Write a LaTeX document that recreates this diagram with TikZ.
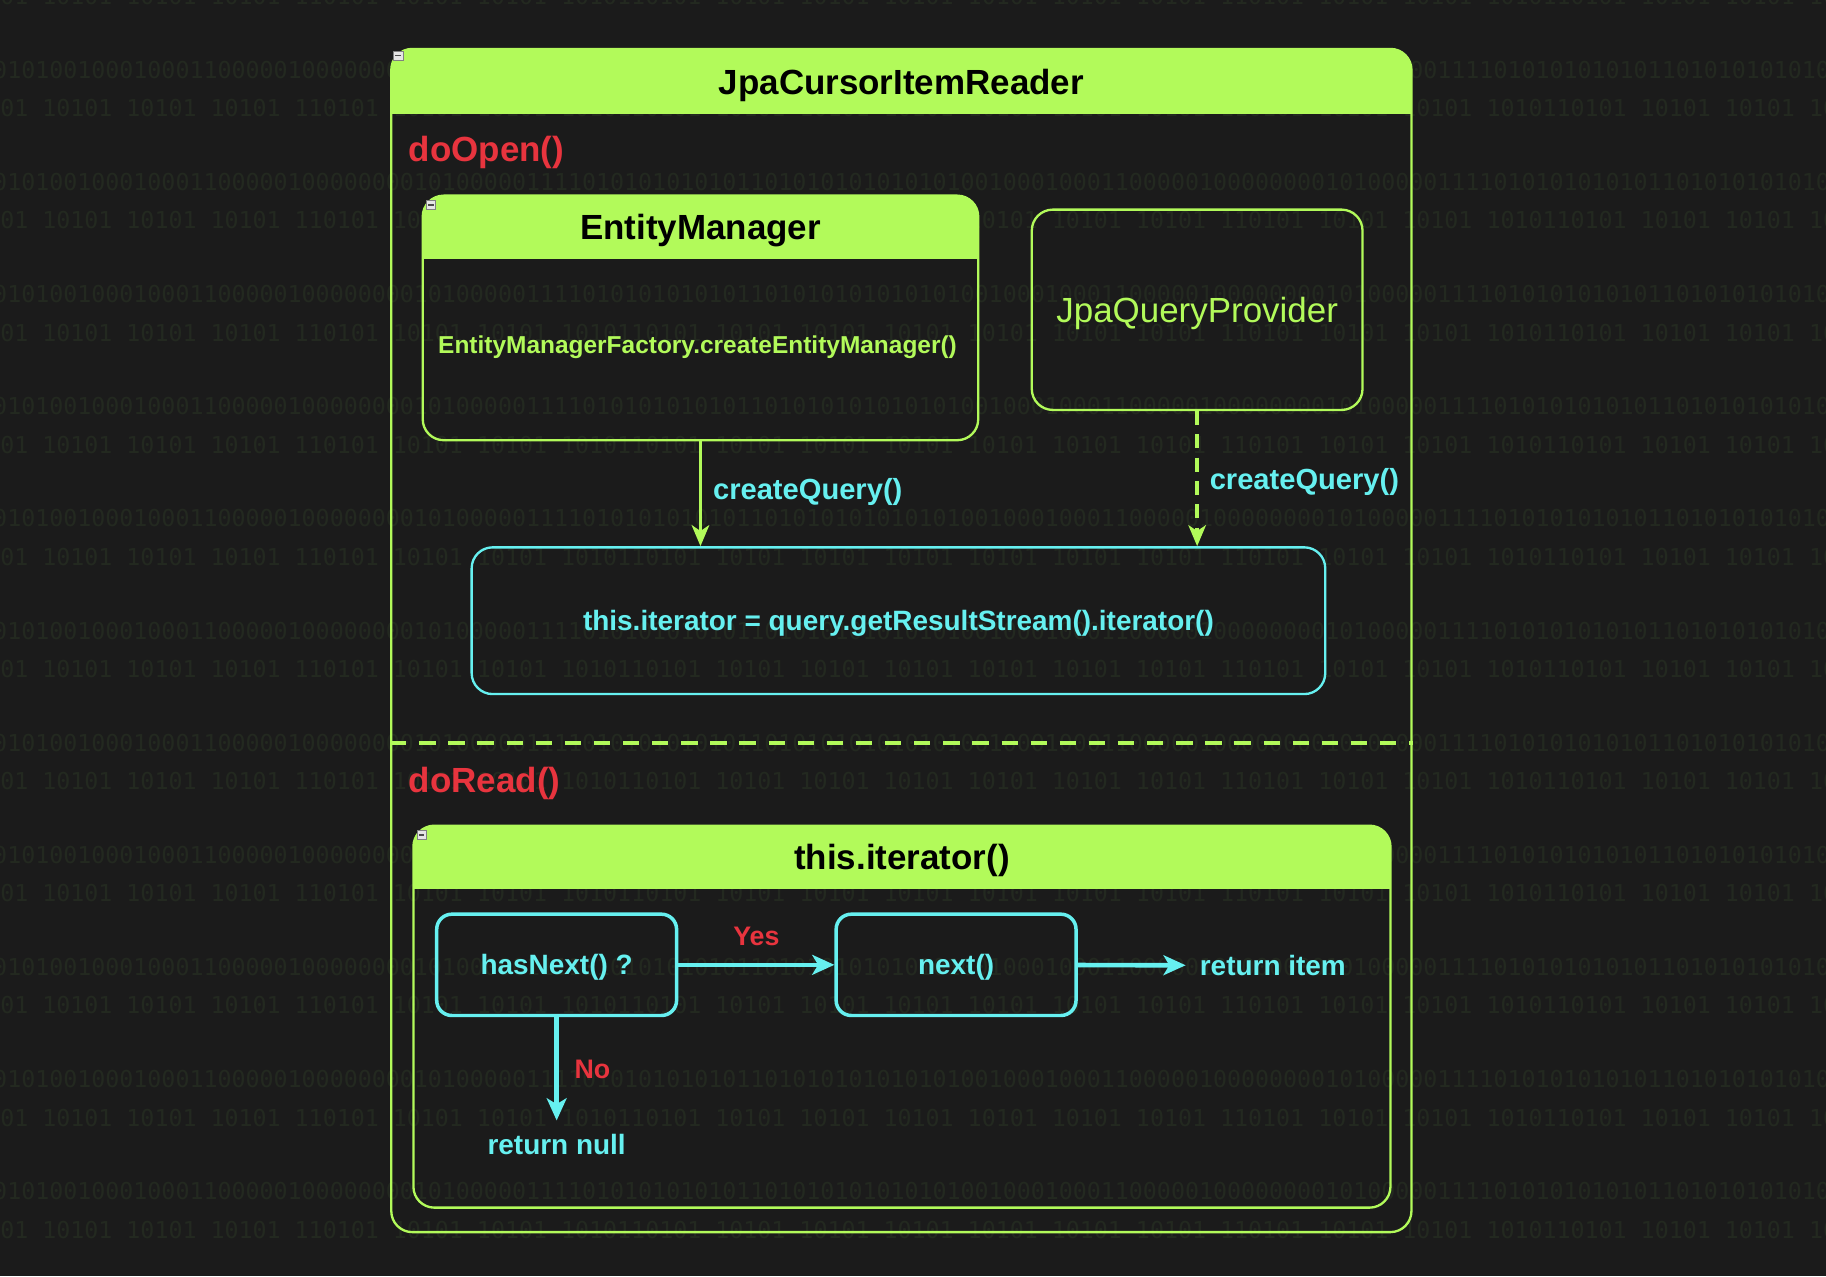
\documentclass[tikz,border=0pt]{standalone}
\usepackage{fontspec}
\setmainfont{Liberation Sans}
\setmonofont{DejaVu Sans Mono}
\usetikzlibrary{arrows,arrows.meta}

\definecolor{bgdark}{RGB}{27,27,27}
\definecolor{lime}{RGB}{178,250,90}
\definecolor{aqua}{RGB}{102,240,240}
\definecolor{alert}{RGB}{232,52,62}
\definecolor{bits}{RGB}{35,41,32}

\newcommand{\bitsrowa}{01010010001000110000010000000010100000111101010101010110101010101010100100010001100000100000000101000001111010101010101101010101010101001}
\newcommand{\bitsrowb}{101 10101 10101 10101 110101 10101 10101 1010110101 10101 10101 10101 10101 10101 10101 110101 10101 10101 1010110101 10101 10101 10101}

\begin{document}
\begin{tikzpicture}[x=1pt, y=-1pt, > = Stealth,
    frame/.style = {draw=lime, line width=2pt, rounded corners=18pt, inner sep=0pt, text depth=0pt},
    container/.style = {frame, path picture={\fill[lime, sharp corners] (path picture bounding box.north west) rectangle ([yshift=-#1]path picture bounding box.north east);}},
    heading/.style = {font=\fontsize{30}{30}\selectfont\bfseries, text=black, text depth=0pt},
    phase/.style = {font=\fontsize{30}{30}\selectfont\bfseries, text=alert, inner sep=0pt, anchor=west, text depth=0pt},
    stepbox/.style = {draw=aqua, line width=3pt, rounded corners=13pt, minimum width=206pt, minimum height=87pt, text=aqua, text depth=0pt, font=\fontsize{24}{24}\selectfont\bfseries},
    result/.style = {text=aqua, font=\fontsize{24}{24}\selectfont\bfseries, inner sep=12pt, text depth=0pt},
    answer/.style = {text=alert, font=\fontsize{23}{23}\selectfont\bfseries, text depth=0pt},
    querylabel/.style = {text=aqua, font=\fontsize{25}{25}\selectfont\bfseries, text depth=0pt},
    call/.style = {draw=lime, line width=3pt, -{Stealth[length=18pt, width=15pt, inset=5pt]}},
    flow/.style = {draw=aqua, line width=4pt, -{Stealth[length=19pt, width=17pt, inset=5pt]}},
    divider/.style = {draw=lime, line width=3.5pt, dash pattern=on 14pt off 11pt},
    bitsline/.style = {anchor=west, inner sep=0pt, text=bits, font=\fontsize{20}{20}\selectfont\ttfamily},
    collapse/.style = {draw=gray, fill=white!80!gray, line width=0.6pt, inner sep=0pt, minimum size=8pt, sharp corners,
        path picture={\draw[black!70, line width=1pt] ([xshift=1.5pt]path picture bounding box.west) -- ([xshift=-1.5pt]path picture bounding box.east);}}]

    \useasboundingbox (0,0) rectangle (1568,1096);
    \fill[bgdark] (0,0) rectangle (1568,1096);

    % binary texture
    \foreach \row in {-1,...,10} {
        \node[bitsline] (bitsa\row) at (-6, 60+96.3*\row) {\bitsrowa};
        \node[bitsline] (bitsb\row) at (-12, 93+96.3*\row) {\bitsrowb};
    }

    % reader
    \node[container=56pt, minimum width=876pt, minimum height=1016pt] (reader) at (774,550) {};
    \node[heading] (readertitle) at ([yshift=-29pt]reader.north) {JpaCursorItemReader};
    \node[collapse] (readerfold) at (342,48) {};

    % doOpen()
    \node[phase] (openlabel) at (351,128) {doOpen()};

    \node[container=54pt, minimum width=477pt, minimum height=210pt] (em) at (601.5,273) {};
    \node[heading] (emtitle) at ([yshift=-28pt]em.north) {EntityManager};
    \node[collapse] (emfold) at (370,176) {};
    \node[text=lime, text depth=0pt, font=\fontsize{21}{21}\selectfont\bfseries] (emfactory) at (599,296) {EntityManagerFactory.createEntityManager()};

    \node[frame, minimum width=284pt, minimum height=172pt, text=lime, font=\fontsize{30}{30}\selectfont] (jqp) at (1028,266) {JpaQueryProvider};

    \node[frame, draw=aqua, minimum width=733pt, minimum height=126pt, text=aqua, font=\fontsize{24}{24}\selectfont\bfseries] (iter) at (771.5,533) {this.iterator = query.getResultStream().iterator()};

    \draw[call] (em.south) -- (em.south |- iter.north) node[midway, right=6pt, yshift=4pt, querylabel] {createQuery()};
    \draw[call, dash pattern=on 12pt off 8pt] (jqp.south) -- (jqp.south |- iter.north) node[midway, right=6pt, querylabel] {createQuery()};

    % split
    \coordinate (split) at (0,638);
    \draw[divider] (reader.west |- split) -- (reader.east |- split);

    % doRead()
    \node[phase] (readlabel) at (351,670) {doRead()};

    \node[container=54pt, minimum width=839pt, minimum height=328pt] (loop) at (774.5,873) {};
    \node[heading] (looptitle) at ([yshift=-28pt]loop.north) {this.iterator()};
    \node[collapse] (loopfold) at (362,717) {};

    \node[stepbox] (hasnext) at (478,828.5) {hasNext() ?};
    \node[stepbox] (next) at (821,828.5) {next()};
    \node[result] (item) at (1093,829) {return item};
    \node[result] (null) at (478,983) {return null};

    \draw[flow] (hasnext) -- (next) node[midway, above=11pt, answer] {Yes};
    \draw[flow] (next) -- (item);
    \draw[flow] (hasnext) -- (null) node[midway, right=10pt, answer] {No};

\end{tikzpicture}
\end{document}
